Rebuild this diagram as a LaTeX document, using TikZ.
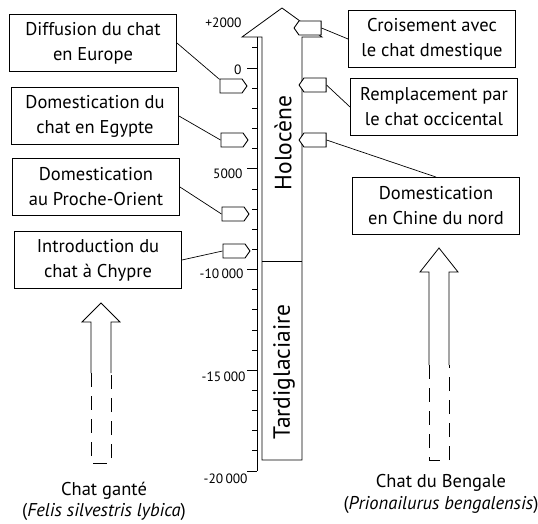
\documentclass[tikz,border=0pt]{standalone}
\usepackage{fontspec}
\setmainfont{PT Sans}
\usetikzlibrary{shapes.symbols}

\tikzset{
    event/.style={draw, line width=0.9pt, align=center, minimum width=167, minimum height=57, inner sep=2pt},
    flag/.style={signal, draw, line width=0.9pt, fill=white, minimum width=27, minimum height=14, inner sep=0pt, signal pointer angle=110},
    period/.style={rotate=90, font=\fontsize{23.5}{28}\selectfont},
    year/.style={anchor=east, font=\fontsize{13.5}{15}\selectfont, inner sep=1pt}
}

\begin{document}
\begin{tikzpicture}[x=1pt, y=-1pt, line width=0.8pt, font=\fontsize{18.5}{25}\selectfont]
    \useasboundingbox (0,0) rectangle (538,524);

    %the big arrow of time, with its two periods
    \draw (262,460) -- (262,37) -- (242,37) -- (282,8) -- (322,37) -- (302,37) -- (302,460) -- cycle;
    \draw (262,261) -- (302,261);
    \node [period] (holo) at (283,143) {Holocène};
    \node [period] (tardi) at (284,372) {Tardiglaciaire};

    %the scale of years
    \draw (257,37) -- (257,471);
    \foreach \k in {-1,...,20}
        \draw (252,{68+20.15*\k}) -- (257,{68+20.15*\k});
    \foreach \k in {0,5,10,15,20}
        \draw (247,{68+20.15*\k}) -- (257,{68+20.15*\k});
    \node [year] (y2) at (243,23) {+2000};
    \node [year] (y0) at (243,70) {0};
    \node [year] (y5) at (244,174) {5000};
    \node [year] (y10) at (245,274) {-10\,000};
    \node [year] (y15) at (247,377) {-15\,000};
    \node [year] (y20) at (249,479) {-20\,000};

    \begin{scope}[every node/.style={event}]
        \node (eu) at (93,43) {Diffusion du chat\\en Europe};
        \node (eg) at (95,116) {Domestication du\\chat en Egypte};
        \node (po) at (96,187) {Domestication\\au Proche-Orient};
        \node (cy) at (98,260) {Introduction du\\chat à Chypre};
        \node (cr) at (432,39) {Croisement avec\\le chat dmestique};
        \node (re) at (434,107) {Remplacement par\\le chat occicental};
        \node (ch) at (436,206) {Domestication\\en Chine du nord};
    \end{scope}

    \begin{scope}[every node/.style={flag}]
        \node [signal to=east] (f1) at (231,86) {};
        \node [signal to=east] (f2) at (232,140) {};
        \node [signal to=east] (f3) at (233,214) {};
        \node [signal to=east] (f4) at (234,251) {};
        \node [signal to=west] (f5) at (310,28) {};
        \node [signal to=west] (f6) at (315,85) {};
        \node [signal to=west] (f7) at (315,140) {};
    \end{scope}

    \begin{scope}[every edge/.style={draw=black, line width=0.7pt}]
        \path (eu.east) edge (f1.150);
        \path (eg.east) edge (f2.west);
        \path (po.east) edge (f3.west);
        \path (cy.east) edge (f4.west);
        \path (f5.east) edge (cr.west);
        \path (f6.east) edge (re.west);
        \path (f7.east) edge (ch.north);
    \end{scope}

    %the two wild cats
    \draw (91,373) -- (91,322) -- (82,322) -- (101,303) -- (120,322) -- (111,322) -- (111,373);
    \draw [dash pattern=on 14pt off 9pt] (91,373) -- (91,463) -- (111,463) -- (111,373);
    \draw (429,365) -- (429,272) -- (420,272) -- (439,248) -- (458,272) -- (449,272) -- (449,365);
    \draw [dash pattern=on 14pt off 9pt] (429,365) -- (429,460) -- (449,460) -- (449,365);
    \node [align=center, font=\fontsize{18.5}{21}\selectfont] (gante) at (104,501) {Chat ganté\\(\textit{Felis silvestris lybica})};
    \node [align=center, font=\fontsize{18.5}{22}\selectfont] (bengale) at (441,494) {Chat du Bengale\\(\textit{Prionailurus bengalensis})};
\end{tikzpicture}
\end{document}
